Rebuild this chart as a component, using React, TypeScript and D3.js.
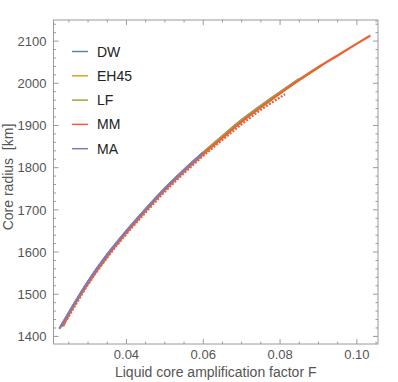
import { useEffect, useRef } from "react";
import * as d3 from "d3";

// F values (liquid core amplification factor) and core radius [km] per model
const dwF = [0.0229, 0.025, 0.03, 0.035, 0.04, 0.045, 0.05, 0.055, 0.06, 0.065, 0.07, 0.075, 0.08, 0.085];
const dwR = [1423, 1456, 1530, 1594, 1650, 1702, 1751, 1795, 1836, 1875, 1913, 1947, 1979, 2010];

const ehF = [0.023, 0.025, 0.03, 0.035, 0.04, 0.045, 0.05, 0.055, 0.06, 0.065, 0.07, 0.075, 0.08, 0.085, 0.0908];
const ehR = [1423, 1455, 1529, 1593, 1649, 1701, 1750, 1794, 1835, 1874, 1912, 1946, 1978, 2009, 2043];

const lfF = [0.0231, 0.025, 0.03, 0.035, 0.04, 0.045, 0.05, 0.055, 0.06, 0.065, 0.07, 0.075, 0.08, 0.085, 0.0905];
const lfR = [1423, 1454, 1528, 1592, 1648, 1700, 1749, 1793, 1834, 1873, 1911, 1945, 1977, 2008, 2041];

const mmF = [0.0235, 0.025, 0.03, 0.035, 0.04, 0.045, 0.05, 0.055, 0.06, 0.065, 0.07, 0.075, 0.08, 0.085, 0.09, 0.095, 0.1, 0.1035];
const mmR = [1424, 1452, 1526, 1590, 1646, 1698, 1747, 1791, 1832, 1871, 1909, 1943, 1976, 2008, 2038, 2066, 2094, 2113];

// lower branch of MM (dotted look)
const mmLowF = [0.0245, 0.03, 0.035, 0.04, 0.045, 0.05, 0.055, 0.06, 0.065, 0.07, 0.075, 0.0813];
const mmLowR = [1440, 1523, 1587, 1643, 1694, 1743, 1787, 1828, 1866, 1903, 1937, 1974];

const maF = [0.0225, 0.025, 0.03, 0.035, 0.04, 0.045, 0.05, 0.055, 0.06];
const maR = [1418, 1456, 1530, 1594, 1650, 1701, 1750, 1794, 1835];

const seriesNames = ["DW", "EH45", "LF", "MM", "MA"];
const seriesColors = ["#5E81B5", "#E19C24", "#8FB032", "#EB6235", "#8778B3"];

const xMajor = [0.04, 0.06, 0.08, 0.1];
const xLabels = ["0.04", "0.06", "0.08", "0.10"];
const yMajor = [1400, 1500, 1600, 1700, 1800, 1900, 2000, 2100];

const W = 398;
const H = 382;

const App = () => {
  const svgRef = useRef<SVGSVGElement>(null);

  useEffect(() => {
    const svg = d3.select(svgRef.current);
    svg.selectAll("*").remove();

    const margin = { top: 20, right: 20, bottom: 38, left: 53.5 };
    const x = d3.scaleLinear().domain([0.021, 0.1055]).range([margin.left, W - margin.right]);
    const y = d3.scaleLinear().domain([1382, 2150]).range([H - margin.bottom, margin.top]);

    const frameColor = "#9a9a9a";
    const labelColor = "#555";
    const font = "'Liberation Sans', Arial, sans-serif";

    const [x0, x1] = x.range();
    const [y0, y1] = y.range();

    // curves
    const line = d3
      .line<[number, number]>()
      .x((d) => x(d[0]))
      .y((d) => y(d[1]))
      .curve(d3.curveMonotoneX);

    const g = svg.append("g");
    const series = [
      { f: dwF, r: dwR },
      { f: ehF, r: ehR },
      { f: lfF, r: lfR },
      { f: mmF, r: mmR },
      { f: maF, r: maR },
    ];

    g.append("path")
      .datum(mmLowF.map((f, i) => [f, mmLowR[i]] as [number, number]))
      .attr("fill", "none")
      .attr("stroke", seriesColors[3])
      .attr("stroke-width", 2.3)
      .attr("stroke-dasharray", "2,1.5")
      .attr("d", line);

    series.forEach((s, k) => {
      g.append("path")
        .datum(s.f.map((f, i) => [f, s.r[i]] as [number, number]))
        .attr("fill", "none")
        .attr("stroke", seriesColors[k])
        .attr("stroke-width", 2.3)
        .attr("d", line);
    });

    // frame
    svg
      .append("rect")
      .attr("x", x0)
      .attr("y", y1)
      .attr("width", x1 - x0)
      .attr("height", y0 - y1)
      .attr("fill", "none")
      .attr("stroke", frameColor)
      .attr("stroke-width", 1);

    // x ticks (major + minor), on bottom and top
    const xMinor = d3.range(0.025, 0.1051, 0.005).filter((v) => !xMajor.some((m) => Math.abs(m - v) < 1e-6));
    const ticks = svg.append("g").attr("stroke", frameColor).attr("stroke-width", 1);
    xMajor.forEach((v) => {
      ticks.append("line").attr("x1", x(v)).attr("x2", x(v)).attr("y1", y0).attr("y2", y0 - 5);
      ticks.append("line").attr("x1", x(v)).attr("x2", x(v)).attr("y1", y1).attr("y2", y1 + 5);
    });
    xMinor.forEach((v) => {
      ticks.append("line").attr("x1", x(v)).attr("x2", x(v)).attr("y1", y0).attr("y2", y0 - 2.5);
      ticks.append("line").attr("x1", x(v)).attr("x2", x(v)).attr("y1", y1).attr("y2", y1 + 2.5);
    });

    const yMinor = d3.range(1400, 2141, 20).filter((v) => v % 100 !== 0);
    yMajor.forEach((v) => {
      ticks.append("line").attr("x1", x0).attr("x2", x0 + 5).attr("y1", y(v)).attr("y2", y(v));
      ticks.append("line").attr("x1", x1).attr("x2", x1 - 5).attr("y1", y(v)).attr("y2", y(v));
    });
    yMinor.forEach((v) => {
      ticks.append("line").attr("x1", x0).attr("x2", x0 + 2.5).attr("y1", y(v)).attr("y2", y(v));
      ticks.append("line").attr("x1", x1).attr("x2", x1 - 2.5).attr("y1", y(v)).attr("y2", y(v));
    });

    // tick labels
    svg
      .append("g")
      .selectAll("text")
      .data(xMajor)
      .enter()
      .append("text")
      .attr("x", (d) => x(d))
      .attr("y", y0 + 14.5)
      .attr("text-anchor", "middle")
      .style("font-family", font)
      .style("font-size", "13px")
      .style("fill", labelColor)
      .text((d, i) => xLabels[i]);

    svg
      .append("g")
      .selectAll("text")
      .data(yMajor)
      .enter()
      .append("text")
      .attr("x", x0 - 7)
      .attr("y", (d) => y(d) + 4.7)
      .attr("text-anchor", "end")
      .style("font-family", font)
      .style("font-size", "13px")
      .style("fill", labelColor)
      .text((d) => String(d));

    // axis titles
    svg
      .append("text")
      .attr("x", (x0 + x1) / 2)
      .attr("y", 377)
      .attr("text-anchor", "middle")
      .style("font-family", font)
      .style("font-size", "14px")
      .style("fill", labelColor)
      .text("Liquid core amplification factor F");

    svg
      .append("text")
      .attr("transform", `translate(13,177) rotate(-90)`)
      .attr("text-anchor", "middle")
      .attr("xml:space", "preserve")
      .style("white-space", "pre")
      .style("font-family", font)
      .style("font-size", "14px")
      .style("fill", labelColor)
      .text("Core radius  [km]");

    // legend
    const legend = svg.append("g");
    seriesNames.forEach((name, i) => {
      const ly = 51.5 + i * 24.3;
      legend
        .append("line")
        .attr("x1", 72)
        .attr("x2", 88)
        .attr("y1", ly)
        .attr("y2", ly)
        .attr("stroke", seriesColors[i])
        .attr("stroke-width", 1.5);
      legend
        .append("text")
        .attr("x", 97)
        .attr("y", ly + 5)
        .style("font-family", font)
        .style("font-size", "14px")
        .style("fill", "#222")
        .text(name);
    });
  }, []);

  return (
    <svg
      ref={svgRef}
      width={W}
      height={H}
      style={{ position: "absolute", left: 0, top: 0, background: "#fff" }}
    ></svg>
  );
};

export default App;
